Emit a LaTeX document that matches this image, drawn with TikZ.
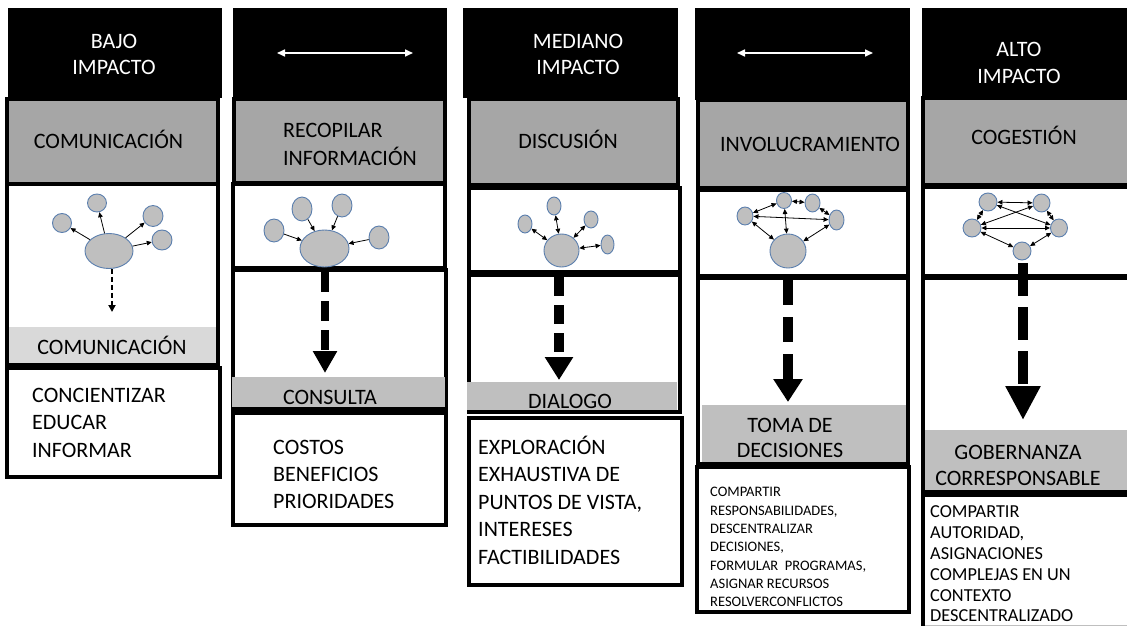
\documentclass[tikz,border=0pt]{standalone}
\usepackage{fontspec}
\setmainfont{Carlito}
\usetikzlibrary{arrows.meta,shapes.geometric}
\definecolor{hdrgray}{HTML}{A6A6A6}
\definecolor{bandgray}{HTML}{BFBFBF}
\definecolor{lightband}{HTML}{D9D9D9}
\definecolor{bubfill}{HTML}{BFBFBF}
\definecolor{bubline}{HTML}{5B7FAE}
\begin{document}
\begin{tikzpicture}[x=1pt,y=-1pt,
  box/.style={draw=black,line width=3.5pt},
  hdr/.style={fill=black},
  hdrtxt/.style={text=white,inner sep=0pt,align=center,font=\fontsize{22}{26}\selectfont},
  txt/.style={text=black,inner sep=0pt,font=\fontsize{22}{27}\selectfont},
  bub/.style={ellipse,draw=bubline,fill=bubfill,line width=0.9pt,inner sep=0pt},
  ar/.style={line width=0.8pt,-{Triangle[length=5pt,width=4.5pt]}},
  bar/.style={line width=0.8pt,{Triangle[length=5pt,width=4.5pt]}-{Triangle[length=5pt,width=4.5pt]}},
  harr/.style={draw=white,line width=1.6pt,{Triangle[length=8pt,width=7pt]}-{Triangle[length=8pt,width=7pt]}}
]
\useasboundingbox (0,0) rectangle (1127,626);
\clip (0,0) rectangle (1127,626);

% ================= Column 1 =================
\fill[hdr] (8,8) rectangle (222,98);
\node[hdrtxt,anchor=north] (h1) at (114,29.8) {\strut BAJO\\IMPACTO};
\draw[box,fill=hdrgray] (7,99) rectangle (218,184);
\node[txt,anchor=base] (g1) at (108.5,148) {COMUNICACIÓN};
\fill[white] (7,184) rectangle (218,365);
\fill[lightband] (7,327) rectangle (216,363);
\draw[box] (7,184) rectangle (218,365);
\node[txt,anchor=base] (b1) at (112,354) {COMUNICACIÓN};
\draw[box] (7,368) rectangle (220,477);
\node[txt,anchor=north west,align=left,font=\fontsize{22}{27.5}\selectfont] (t1) at (32,382.75) {\strut CONCIENTIZAR\\EDUCAR\\INFORMAR};
% diagram 1
\node[bub,minimum width=48pt,minimum height=35pt] (c1big) at (109,251) {};
\node[bub,minimum width=19pt,minimum height=19pt] (c1a) at (62,223) {};
\node[bub,minimum width=19pt,minimum height=18pt] (c1b) at (97,203) {};
\node[bub,minimum width=20pt,minimum height=21pt] (c1c) at (153,216) {};
\node[bub,minimum width=20pt,minimum height=20pt] (c1d) at (162,240) {};
\draw[ar] (c1big) -- (c1a);
\draw[ar] (c1big) -- (c1b);
\draw[ar] (c1big) -- (c1c);
\draw[ar] (c1big) -- (c1d);
\coordinate (c1tip) at (112,312);
\draw[line width=2pt,dash pattern=on 5pt off 3pt,-{Triangle[length=7pt,width=7pt]}] (c1big.south -| c1tip) -- (c1tip);

% ================= Column 2 =================
\fill[hdr] (233,8) rectangle (447,98);
\coordinate (a2l) at (277,53);
\coordinate (a2r) at (413,53);
\draw[harr] (a2l) -- (a2r);
\draw[box,fill=hdrgray] (234,99) rectangle (445,183);
\node[txt,anchor=north west,align=left,font=\fontsize{22}{28}\selectfont] (g2) at (283,117.4) {\strut RECOPILAR\\INFORMACIÓN};
\draw[box,fill=white] (233,184) rectangle (445,268);
\fill[white] (233,270) rectangle (446,409);
\draw[box] (233,270) rectangle (446,409);
\fill[bandgray] (232,377) rectangle (445,407);
\draw[line width=3.5pt] (233,409) -- (446,409);
\node[txt,anchor=base] (b2) at (330,404) {CONSULTA};
\draw[box] (233,413) rectangle (446,525);
\node[txt,anchor=north west,align=left,font=\fontsize{22}{27}\selectfont] (t2) at (273,435.1) {\strut COSTOS\\BENEFICIOS\\PRIORIDADES};
% diagram 2
\node[bub,minimum width=49pt,minimum height=37pt] (c2big) at (324.5,248.5) {};
\node[bub,minimum width=20pt,minimum height=23pt] (c2a) at (274,230.5) {};
\node[bub,minimum width=20pt,minimum height=24pt] (c2b) at (302,209) {};
\node[bub,minimum width=20pt,minimum height=23pt] (c2c) at (342,205.5) {};
\node[bub,minimum width=20pt,minimum height=23pt] (c2d) at (379,237.5) {};
\draw[ar] (c2a) -- (c2big);
\draw[ar] (c2b) -- (c2big);
\draw[ar] (c2c) -- (c2big);
\draw[ar] (c2d) -- (c2big);
\coordinate (d2s) at (325,272);
\coordinate (d2e) at (325,373);
\draw[line width=8pt,dash pattern=on 20pt off 9pt,-{Triangle[length=22pt,width=23pt]}] (d2s) -- (d2e);

% ================= Column 3 =================
\fill[hdr] (463,8) rectangle (678,98);
\node[hdrtxt,anchor=north] (h3) at (578,29.8) {\strut MEDIANO\\IMPACTO};
\draw[box,fill=hdrgray] (469,99) rectangle (678,185);
\node[txt,anchor=base] (g3) at (568,148) {DISCUSIÓN};
\draw[box,fill=white] (469,188) rectangle (680,272);
\fill[white] (469,275) rectangle (680,412);
\draw[box] (469,275) rectangle (680,412);
\fill[bandgray] (467,382) rectangle (677,410);
\draw[line width=3.5pt] (469,412) -- (680,412);
\node[txt,anchor=base] (b3) at (570,408) {DIALOGO};
\draw[box] (469,418) rectangle (682,585);
\node[txt,anchor=north west,align=left,font=\fontsize{22}{27.5}\selectfont] (t3) at (478,434.75) {\strut EXPLORACIÓN\\EXHAUSTIVA DE\\PUNTOS DE VISTA,\\INTERESES\\FACTIBILIDADES};
% diagram 3
\node[bub,minimum width=35pt,minimum height=33pt] (c3big) at (561.5,250.5) {};
\node[bub,minimum width=14pt,minimum height=18pt] (c3a) at (525,224) {};
\node[bub,minimum width=14pt,minimum height=18pt] (c3b) at (554,206) {};
\node[bub,minimum width=14pt,minimum height=17pt] (c3c) at (591,219.5) {};
\node[bub,minimum width=13pt,minimum height=19pt] (c3d) at (607.5,244.5) {};
\draw[bar] (c3big) -- (c3a);
\draw[bar] (c3big) -- (c3b);
\draw[bar] (c3big) -- (c3c);
\draw[bar] (c3big) -- (c3d);
\coordinate (d3s) at (559,277);
\coordinate (d3e) at (559,380);
\draw[line width=10pt,dash pattern=on 19pt off 9pt,-{Triangle[length=23pt,width=27pt]}] (d3s) -- (d3e);

% ================= Column 4 =================
\fill[hdr] (695,8) rectangle (910,100);
\coordinate (a4l) at (737,53);
\coordinate (a4r) at (873,53);
\draw[harr] (a4l) -- (a4r);
\draw[box,fill=hdrgray] (698,100) rectangle (908,188);
\node[txt,anchor=base] (g4) at (810,151) {INVOLUCRAMIENTO};
\draw[box,fill=white] (698,190) rectangle (908,276);
\fill[white] (698,278) rectangle (908,464);
\fill[bandgray] (702,405) rectangle (908,462);
\draw[box] (698,278) rectangle (908,464);
\node[txt,anchor=north,align=center,font=\fontsize{22}{25}\selectfont] (b4) at (790,414.5) {\strut TOMA DE\\DECISIONES};
\draw[box] (697,467) rectangle (909,612);
\node[txt,anchor=north west,align=left,font=\fontsize{14.5}{18.3}\selectfont] (t4) at (710,483.8) {\strut COMPARTIR\\RESPONSABILIDADES,\\DESCENTRALIZAR\\DECISIONES,\\FORMULAR\ \ PROGRAMAS,\\ASIGNAR RECURSOS\\RESOLVERCONFLICTOS};
% diagram 4
\node[bub,minimum width=36pt,minimum height=34pt] (c4big) at (788,251) {};
\node[bub,minimum width=16pt,minimum height=18pt] (c4a) at (745,216) {};
\node[bub,minimum width=15pt,minimum height=16pt] (c4b) at (784,200.5) {};
\node[bub,minimum width=15pt,minimum height=18pt] (c4c) at (812.5,203) {};
\node[bub,minimum width=15pt,minimum height=20pt] (c4d) at (836.5,220) {};
\draw[bar] (c4a) -- (c4b);
\draw[bar] (c4b) -- (c4c);
\draw[bar] (c4c) -- (c4d);
\draw[bar] (c4a) -- (c4d);
\draw[bar] (c4b) -- (c4big);
\draw[bar] (c4a) -- (c4big);
\draw[bar] (c4d) -- (c4big);
\coordinate (d4s) at (788,280);
\coordinate (d4e) at (788,402);
\draw[line width=10pt,dash pattern=on 25pt off 12pt,-{Triangle[length=23pt,width=28pt]}] (d4s) -- (d4e);

% ================= Column 5 =================
\fill[hdr] (922,8) rectangle (1135,98);
\node[hdrtxt,anchor=north,font=\fontsize{22}{27}\selectfont] (h5) at (1019,37.1) {\strut ALTO\\IMPACTO};
\draw[box,fill=hdrgray] (923,98) rectangle (1135,185);
\node[txt,anchor=base] (g5) at (1024,144) {COGESTIÓN};
\draw[box,fill=white] (923,187) rectangle (1135,276);
\fill[white] (923,278) rectangle (1135,492);
\fill[bandgray] (923,430) rectangle (1135,490);
\draw[box] (923,278) rectangle (1135,492);
\node[txt,anchor=north,align=center,font=\fontsize{22}{26}\selectfont] (b5) at (1018,441.3) {\strut GOBERNANZA\\CORRESPONSABLE};
\draw[box] (923,495) rectangle (1135,660);
\draw[line width=1pt,draw=black!25] (925,625) -- (1127,625);
\node[txt,anchor=north west,align=left,font=\fontsize{18.3}{20.8}\selectfont] (t5) at (930,503.2) {\strut COMPARTIR\\AUTORIDAD,\\ASIGNACIONES\\COMPLEJAS EN UN\\CONTEXTO\\DESCENTRALIZADO};
% diagram 5
\node[bub,minimum width=18pt,minimum height=18pt] (c5a) at (988,202) {};
\node[bub,minimum width=17pt,minimum height=18pt] (c5b) at (1041.5,203) {};
\node[bub,minimum width=18pt,minimum height=18pt] (c5c) at (972,228) {};
\node[bub,minimum width=17pt,minimum height=18pt] (c5d) at (1059,228) {};
\node[bub,minimum width=18pt,minimum height=18pt] (c5e) at (1022,251) {};
\draw[bar] (c5a) -- (c5b);
\draw[bar] (c5a) -- (c5c);
\draw[bar] (c5b) -- (c5d);
\draw[bar] (c5c) -- (c5d);
\draw[bar] (c5a) -- (c5d);
\draw[bar] (c5b) -- (c5c);
\draw[bar] (c5c) -- (c5e);
\draw[bar] (c5d) -- (c5e);
\coordinate (d5s) at (1023,263);
\coordinate (d5e) at (1023,420);
\draw[line width=10.5pt,dash pattern=on 33pt off 11pt,-{Triangle[length=34pt,width=33pt]}] (d5s) -- (d5e);
\end{tikzpicture}
\end{document}
